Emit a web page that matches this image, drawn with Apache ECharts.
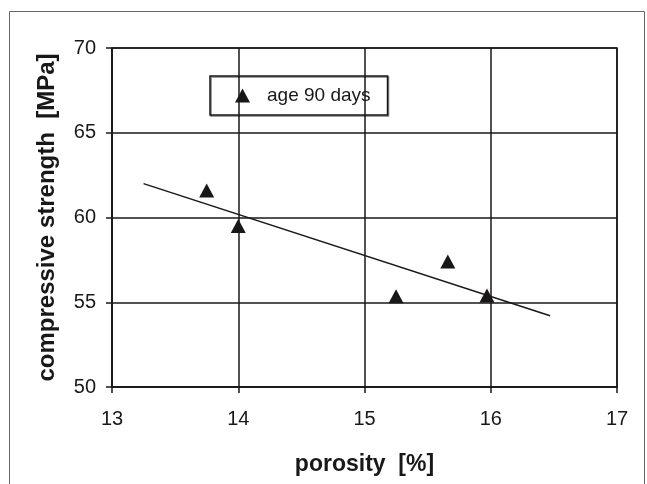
<!DOCTYPE html>
<html><head><meta charset="utf-8">
<script src="https://cdn.jsdelivr.net/npm/echarts@6/dist/echarts.min.js"></script>
<style>html,body{margin:0;padding:0;background:#fff}#c{width:647px;height:484px}</style>
</head><body><div id="c"></div>
<script>
const porosity = [13.75, 14.0, 15.25, 15.66, 15.97];
const strength = [61.6, 59.5, 55.35, 57.4, 55.4];
const trendX = [13.25, 16.47];
const trendY = [62.0, 54.2];
const seriesName = 'age 90 days';
const xTitle = 'porosity  [%]';
const yTitle = 'compressive strength  [MPa]';

const chart = echarts.init(document.getElementById('c'), null, {renderer:'canvas'});
const font = 'Liberation Sans, Arial, sans-serif';
const ink = '#1a1718';
chart.setOption({
  animation:false,
  backgroundColor:'#fff',
  grid:{left:112,right:30,top:48,bottom:97,show:true,borderColor:ink,borderWidth:1.5},
  graphic:[{type:'rect',shape:{x:9.5,y:11.5,width:635,height:480},style:{fill:'none',stroke:'#666',lineWidth:1},z:-1}],
  legend:{data:[{name:seriesName,itemStyle:{color:ink,opacity:1}}],left:210,top:76,orient:'horizontal',
    borderColor:ink,borderWidth:1.5,padding:[10,17,10,25],
    itemWidth:15,itemHeight:14,itemGap:5,
    textStyle:{fontFamily:font,fontSize:19,color:ink,padding:[0,0,0,12]},
    shadowColor:'rgba(0,0,0,0.5)',shadowOffsetX:1,shadowOffsetY:1},
  xAxis:{type:'value',min:13,max:17,interval:1,
    name:xTitle,nameLocation:'middle',nameGap:66,
    nameTextStyle:{fontFamily:font,fontSize:23,fontWeight:'bold',color:ink},
    axisLine:{show:true,lineStyle:{color:ink,width:1.5}},
    axisTick:{show:true,length:6,lineStyle:{color:ink,width:1.5}},
    axisLabel:{fontFamily:font,fontSize:20,color:ink,margin:22},
    splitLine:{show:true,lineStyle:{color:ink,width:1.5}}},
  yAxis:{type:'value',min:50,max:70,interval:5,
    name:yTitle,nameLocation:'middle',nameGap:53,
    nameTextStyle:{fontFamily:font,fontSize:24,fontWeight:'bold',color:ink},
    axisLine:{show:true,lineStyle:{color:ink,width:1.5}},
    axisTick:{show:true,length:6,lineStyle:{color:ink,width:1.5}},
    axisLabel:{fontFamily:font,fontSize:20,color:ink,margin:16},
    splitLine:{show:true,lineStyle:{color:ink,width:1.5}}},
  series:[
    {name:seriesName,type:'scatter',symbol:'triangle',symbolSize:[15,14],
     itemStyle:{color:ink,opacity:1},data:porosity.map((x,i)=>[x,strength[i]]),z:3},
    {name:'trend',type:'line',showSymbol:false,symbol:'none',
     lineStyle:{color:ink,width:1.5},data:trendX.map((x,i)=>[x,trendY[i]]),z:2}
  ]
});
</script></body></html>
